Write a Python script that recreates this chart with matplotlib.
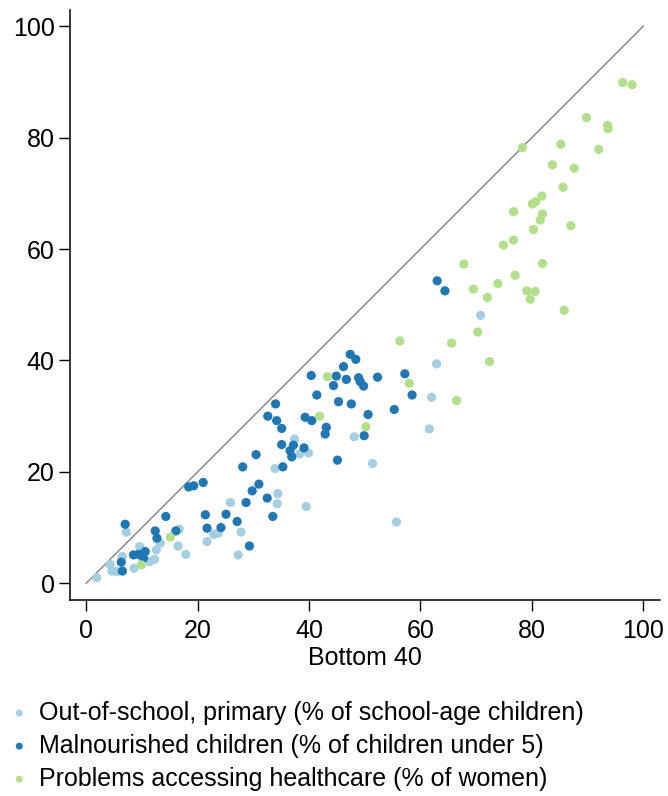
import matplotlib
matplotlib.use('Agg')
import matplotlib.pyplot as plt

plt.rcParams['font.family'] = ['Liberation Sans', 'DejaVu Sans']

# Out-of-school, primary: bottom 40 vs. top 60
school_b40 = [1.9, 4.3, 4.6, 5.5, 6.5, 7.2, 8.6, 9.6, 11.4, 12.3, 12.6, 13.3, 16.5, 16.7,
              17.9, 21.7, 22.9, 23.7, 25.9, 27.3, 27.8, 33.9, 34.4, 34.3, 37.4, 38.3, 39.9,
              39.5, 48.1, 51.4, 55.7, 62.0, 61.6, 62.9, 70.8]
school_t60 = [1.0, 3.4, 2.2, 2.1, 4.8, 9.2, 2.7, 6.6, 3.9, 4.3, 6.0, 7.2, 6.7, 9.7,
              5.2, 7.5, 8.8, 9.0, 14.5, 5.1, 9.2, 20.6, 16.1, 14.3, 25.9, 23.2, 23.4,
              13.8, 26.3, 21.5, 11.0, 33.4, 27.7, 39.4, 48.1]

# Malnourished children
nutr_b40 = [7.0, 14.3, 12.4, 12.7, 16.1, 6.3, 6.5, 8.5, 9.4, 10.6, 10.3, 18.4, 19.3, 21.0,
            21.4, 21.7, 24.2, 25.1, 27.1, 29.3, 28.1, 29.8, 31.0, 28.7, 32.5, 33.5, 30.5,
            35.3, 35.1, 37.2, 36.6, 36.9, 39.1, 32.6, 34.0, 34.2, 35.1, 39.3, 40.5, 43.1,
            42.9, 45.1, 41.4, 40.4, 44.9, 46.7, 44.4, 46.2, 47.4, 48.4, 48.9, 49.2, 49.8,
            52.3, 45.3, 47.6, 50.6, 49.9, 55.3, 57.2, 58.5, 63.0, 64.4]
nutr_t60 = [10.6, 12.0, 9.4, 8.1, 9.4, 3.8, 2.2, 5.1, 5.2, 5.7, 4.5, 17.3, 17.5, 18.1,
            12.3, 9.9, 10.0, 12.4, 11.1, 6.7, 20.9, 16.6, 17.8, 14.5, 15.3, 12.0, 23.1,
            20.9, 24.9, 24.8, 23.8, 22.7, 24.3, 30.0, 32.2, 29.2, 27.8, 29.8, 29.2, 28.0,
            26.8, 22.1, 33.8, 37.3, 37.2, 36.6, 35.5, 38.9, 41.1, 40.2, 36.9, 36.2, 35.4,
            37.0, 32.6, 32.2, 30.3, 26.5, 31.2, 37.6, 33.8, 54.3, 52.5]

# Problems accessing healthcare
health_b40 = [9.9, 15.1, 41.9, 43.3, 50.2, 56.3, 58.0, 65.6, 66.5, 67.8, 69.5, 70.3, 72.0,
              72.4, 73.9, 77.0, 79.1, 80.6, 79.7, 85.8, 81.9, 74.9, 76.7, 80.3, 87.0, 81.5,
              81.9, 76.7, 80.1, 80.7, 81.8, 85.6, 83.7, 87.6, 78.3, 85.2, 92.0, 89.8, 93.6,
              93.7, 96.3, 98.0]
health_t60 = [3.3, 8.3, 30.0, 37.1, 28.1, 43.5, 35.9, 43.1, 32.8, 57.3, 52.8, 45.1, 51.3,
              39.8, 53.8, 55.3, 52.5, 52.4, 51.0, 49.0, 57.4, 60.7, 61.6, 63.5, 64.2, 65.2,
              66.3, 66.7, 68.1, 68.5, 69.5, 71.1, 75.1, 74.5, 78.2, 78.8, 77.9, 83.6, 82.2,
              81.6, 89.9, 89.5]

labels = ['Out-of-school, primary (% of school-age children)',
          'Malnourished children (% of children under 5)',
          'Problems accessing healthcare (% of women)']
colors = ['#a6cee3', '#1f78b4', '#b2df8a']

fig = plt.figure(figsize=(6.68, 7.96), dpi=100)
ax = fig.add_axes([0.1048, 0.2462, 0.8832, 0.7412])

# line of equality
ax.plot([0, 100], [0, 100], color='#808080', lw=1.0, zorder=1)

handles = []
for xs, ys, c, lab in zip([school_b40, nutr_b40, health_b40],
                          [school_t60, nutr_t60, health_t60], colors, labels):
    h = ax.scatter(xs, ys, s=44, color=c, edgecolors='none', label=lab, zorder=2)
    handles.append(h)

ax.set_xlim(-2.9, 103.0)
ax.set_ylim(-3.0, 102.9)
ax.set_xticks(range(0, 101, 20))
ax.set_yticks(range(0, 101, 20))
ax.spines['top'].set_visible(False)
ax.spines['right'].set_visible(False)
for side in ['left', 'bottom']:
    ax.spines[side].set_linewidth(1.1)
ax.tick_params(axis='both', direction='out', length=8, width=1.0, labelsize=18)
ax.tick_params(axis='x', pad=6)
ax.tick_params(axis='y', pad=3)
ax.set_xlabel('Bottom 40', fontsize=18, labelpad=2)

fig.legend(handles=handles, labels=labels, loc='upper left',
           bbox_to_anchor=(0.012, 0.126), frameon=False, fontsize=18,
           markerscale=0.75, handlelength=0.5, handletextpad=0.55,
           labelspacing=0.36, borderaxespad=0, borderpad=0.2)

fig.savefig('out.png', dpi=100)
